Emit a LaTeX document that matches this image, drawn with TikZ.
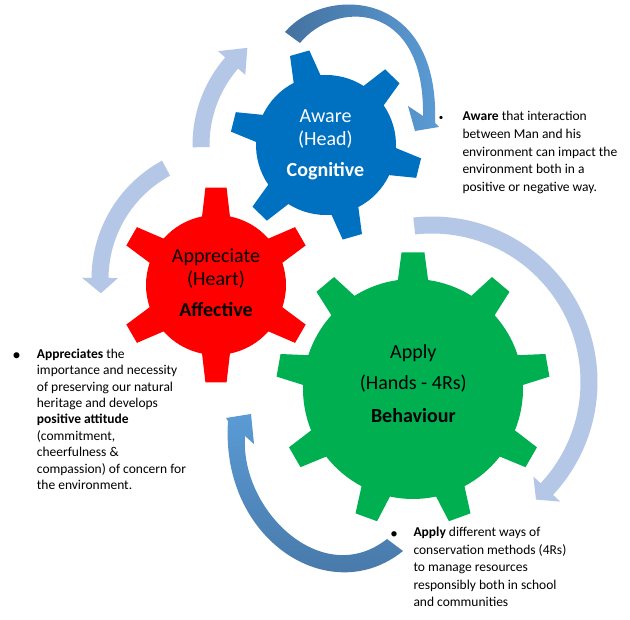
\documentclass[tikz,border=0pt]{standalone}
\usepackage{fontspec}
\setmainfont{Carlito}
\definecolor{gearBlue}{RGB}{0,112,192}
\definecolor{gearRed}{RGB}{255,0,0}
\definecolor{gearGreen}{RGB}{0,176,80}
\definecolor{cycleArc}{RGB}{180,199,231}
\definecolor{flowDark}{RGB}{68,114,160}
\definecolor{flowLight}{RGB}{91,155,213}

% gear: #1 colour, #2 centre, #3 teeth, #4 phase, #5 tip radius,
% #6 body radius, #7 half angle at tip, #8 half angle at root
\newcommand\gearshape[8]{%
  \fill[#1] ([shift={(#2)}] {#4-#8}:#6)
  \foreach \k in {1,...,#3} {
    -- ([shift={(#2)}] {#4-360/#3+\k*360/#3-#7}:#5)
    -- ([shift={(#2)}] {#4-360/#3+\k*360/#3+#7}:#5)
    -- ([shift={(#2)}] {#4-360/#3+\k*360/#3+#8}:#6)
    arc[start angle={#4-360/#3+\k*360/#3+#8}, end angle={#4+\k*360/#3-#8}, radius=#6]
  } -- cycle;}

% circular arrow: #1 centre, #2 radius, #3 half band, #4 start angle,
% #5 head base angle, #6 tip angle, #7 half head width
\newcommand\cyclearrow[7]{%
  \fill[cycleArc] ([shift={(#1)}] #4:{#2+#3})
    arc[start angle=#4, end angle=#5, radius={#2+#3}]
    -- ([shift={(#1)}] #5:{#2+#7})
    -- ([shift={(#1)}] #6:#2)
    -- ([shift={(#1)}] #5:{#2-#7})
    -- ([shift={(#1)}] #5:{#2-#3})
    arc[start angle=#5, end angle=#4, radius={#2-#3}] -- cycle;}

\begin{document}
\begin{tikzpicture}[x=1pt,y=-1pt,
  gtxt/.style={anchor=base, inner sep=0pt, font=\fontsize{20}{24}\selectfont},
  btxt/.style={anchor=base west, inner sep=0pt, font=\fontsize{13.5}{16}\selectfont},
  bul/.style={anchor=base, inner sep=0pt}]
\useasboundingbox (0,0) rectangle (630,620);
\fill[white] (0,0) rectangle (630,620);

\coordinate (cBlue) at (326,145);
\coordinate (cRed) at (216,285);
\coordinate (cGreen) at (413,389);

% light circular arrows
\cyclearrow{326,145}{125}{8.5}{-181}{-139}{-129}{18}
\cyclearrow{226,279}{126}{8.5}{-118.4}{-179.5}{-186.5}{18}
\cyclearrow{432,382}{157}{8.5}{-96.5}{43}{48.5}{18.4}

% curved flow arrows
\shade[left color=flowDark, right color=flowLight]
  (285,32) .. controls (325,-15) and (440,-12) .. (435,123)
  -- (439,127) -- (415,131) -- (408,106) -- (423,116)
  .. controls (425,0) and (335,0) .. (300,43) -- cycle;
\shade[top color=flowLight, bottom color=flowDark]
  (403,551) .. controls (330,610) and (220,540) .. (228,421)
  -- (226,418) -- (251,414) -- (254,444) -- (245,436)
  .. controls (240,510) and (322,590) .. (387,539) -- cycle;

% gears
\gearshape{gearGreen}{cGreen}{9}{-90}{137}{110}{4.8}{7.9}
\gearshape{gearBlue}{cBlue}{6}{-106}{96}{70}{6}{11.5}
\gearshape{gearRed}{cRed}{6}{-90}{98}{70}{6.2}{11.5}

% gear labels
\node[gtxt, text=white] (awA) at (325.5,122.7) {Aware};
\node[gtxt, text=white] (awB) at (325.5,145.7) {(Head)};
\node[gtxt, text=white, font=\fontsize{20}{24}\selectfont\bfseries] (awC) at (325.5,176.7) {Cognitive};

\node[gtxt] (apA) at (216,262.7) {Appreciate};
\node[gtxt] (apB) at (216,286) {(Heart)};
\node[gtxt, font=\fontsize{20}{24}\selectfont\bfseries] (apC) at (216,316.7) {Affective};

\node[gtxt] (plA) at (413.3,358.3) {Apply};
\node[gtxt] (plB) at (413.3,390) {(Hands - 4Rs)};
\node[gtxt, font=\fontsize{20}{24}\selectfont\bfseries] (plC) at (413.3,422.3) {Behaviour};

% bullet notes
\node[bul, font=\fontsize{9}{10}\selectfont] (dotAw) at (441,120.7) {\textbullet};
\node[btxt] (noteAw) at (462.3,120.7) {\vtop{\baselineskip=17.75pt
  \hbox{\textbf{Aware} that interaction}
  \hbox{between Man and his}
  \hbox{environment can impact the}
  \hbox{environment both in a}
  \hbox{positive or negative way.}}};

\node[bul, font=\fontsize{17}{18}\selectfont] (dotAp) at (16.7,360.5) {\textbullet};
\node[btxt] (noteAp) at (36.7,358.3) {\vtop{\baselineskip=16.4pt
  \hbox{\textbf{Appreciates} the}
  \hbox{importance and necessity}
  \hbox{of preserving our natural}
  \hbox{heritage and develops}
  \hbox{\textbf{positive attitude}}
  \hbox{(commitment,}
  \hbox{cheerfulness \&}
  \hbox{compassion) of concern for}
  \hbox{the environment.}}};

\node[bul, font=\fontsize{15}{16}\selectfont] (dotPl) at (394,538.5) {\textbullet};
\node[btxt] (notePl) at (413.3,536.7) {\vtop{\baselineskip=17.5pt
  \hbox{\textbf{Apply} different ways of}
  \hbox{conservation methods (4Rs)}
  \hbox{to manage resources}
  \hbox{responsibly both in school}
  \hbox{and communities}}};
\end{tikzpicture}
\end{document}
